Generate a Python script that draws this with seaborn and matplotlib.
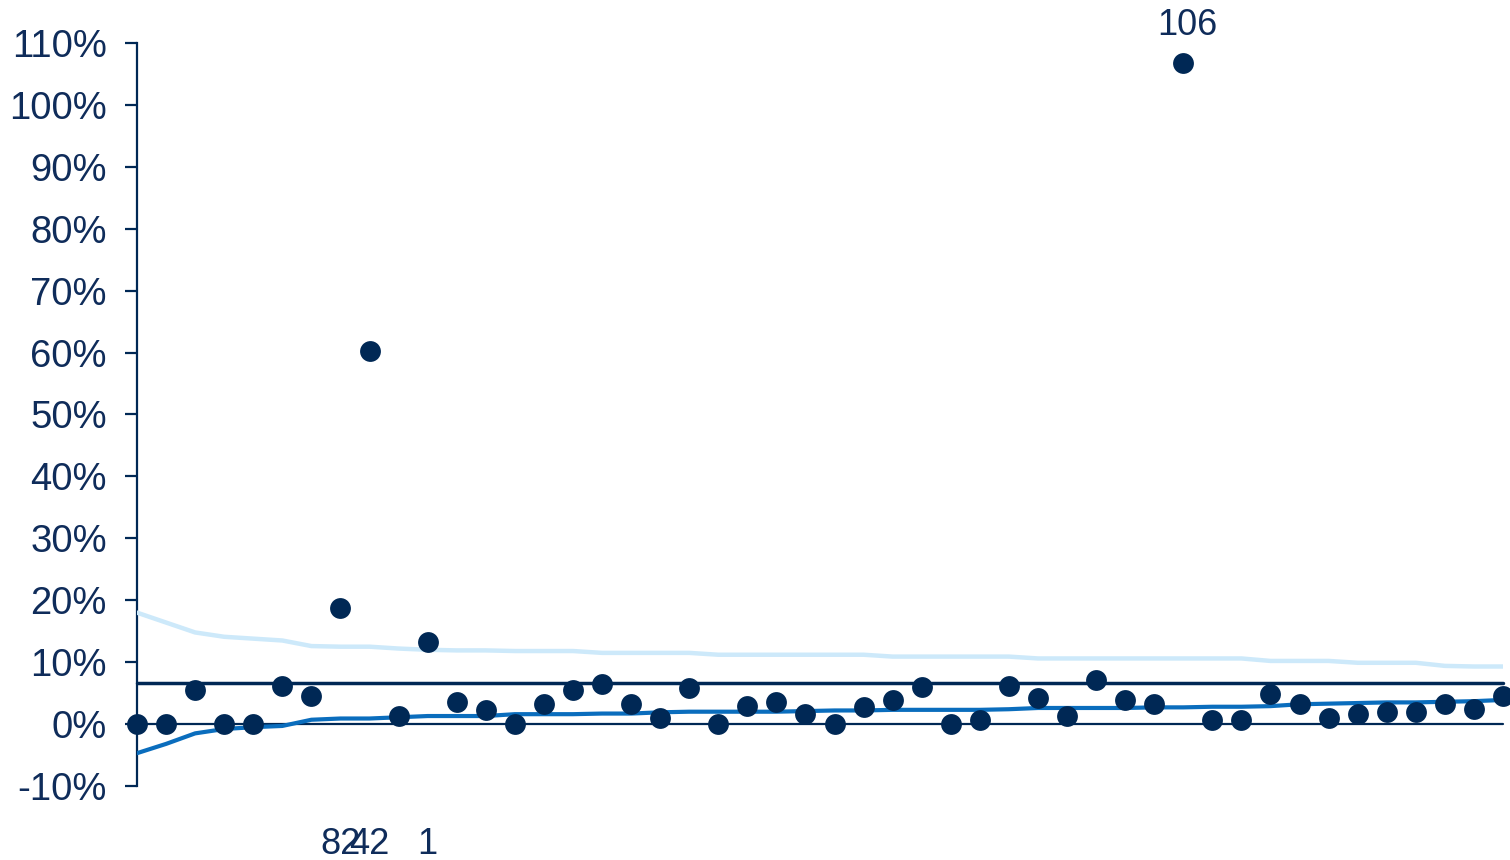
import numpy as np
import pandas as pd
import matplotlib
matplotlib.use("Agg")
import matplotlib.pyplot as plt
import seaborn as sns
from matplotlib.ticker import FuncFormatter, FixedLocator

# ---- data (percent) ----
rates = [0.0, 0.0, 5.5, 0.0, 0.0, 6.1, 4.5, 18.8, 60.3, 1.3, 13.3, 3.6, 2.3, 0.0,
         3.3, 5.5, 6.5, 3.2, 1.0, 5.8, 0.0, 3.0, 3.6, 1.6, 0.0, 2.7, 3.9, 6.0,
         0.0, 0.6, 6.1, 4.2, 1.3, 7.1, 3.9, 3.2, 106.8, 0.6, 0.6, 4.9, 3.2, 1.0,
         1.7, 2.0, 2.0, 3.2, 2.5, 4.5]
upper_limit = [18.0, 16.4, 14.8, 14.1, 13.8, 13.5, 12.6, 12.5, 12.5, 12.2, 12.0, 11.9,
               11.9, 11.8, 11.8, 11.8, 11.5, 11.5, 11.5, 11.5, 11.2, 11.2, 11.2, 11.2,
               11.2, 11.2, 10.9, 10.9, 10.9, 10.9, 10.9, 10.6, 10.6, 10.6, 10.6, 10.6,
               10.6, 10.6, 10.6, 10.2, 10.2, 10.2, 9.9, 9.9, 9.9, 9.4, 9.3, 9.3]
lower_limit = [-4.7, -3.2, -1.5, -0.8, -0.5, -0.3, 0.7, 0.9, 0.9, 1.1, 1.3, 1.3,
               1.3, 1.6, 1.6, 1.6, 1.7, 1.7, 1.9, 2.0, 2.0, 2.0, 2.0, 2.1,
               2.2, 2.2, 2.3, 2.3, 2.3, 2.3, 2.4, 2.6, 2.6, 2.6, 2.6, 2.7,
               2.7, 2.8, 2.8, 2.9, 3.2, 3.3, 3.4, 3.5, 3.5, 3.6, 3.7, 3.9]
mean_rate = 6.65
label_index = [7, 8, 10, 36]
label_text = ["82", "42", "1", "106"]
y_ticks = [-10, 0, 10, 20, 30, 40, 50, 60, 70, 80, 90, 100, 110]

NAVY = "#002855"
TEXT = "#0f2c5a"
LIGHT = "#cde9fa"
MID = "#0a6dbd"

df = pd.DataFrame({"pos": np.arange(len(rates)), "rate": rates,
                   "upper": upper_limit, "lower": lower_limit})

sns.set_style("white")
plt.rcParams['font.family'] = ['Liberation Sans', 'DejaVu Sans']

fig = plt.figure(figsize=(15.1, 8.6), dpi=100)
ax = fig.add_axes([137 / 1510, 1 - 786 / 860, (1503 - 137) / 1510, (786 - 43) / 860])

n = len(rates)
ax.plot([0, n - 1], [0, 0], color=NAVY, lw=1.6, zorder=2, clip_on=False)
ax.plot([0, n - 1], [mean_rate, mean_rate], color=NAVY, lw=2.5, zorder=2, clip_on=False)
sns.lineplot(data=df, x="pos", y="upper", ax=ax, color=LIGHT, lw=3.2, zorder=3)
sns.lineplot(data=df, x="pos", y="lower", ax=ax, color=MID, lw=3.0, zorder=3)
sns.scatterplot(data=df, x="pos", y="rate", ax=ax, color=NAVY, s=225,
                linewidth=0, zorder=5, clip_on=False)

for i, t in zip(label_index, label_text):
    if rates[i] > 100:
        ax.text(i + 0.15, rates[i] + 6.0, t, ha="center", va="center",
                fontsize=26, color=TEXT, clip_on=False)
    else:
        ax.text(i, -19.5, t, ha="center", va="center", fontsize=26,
                color=TEXT, clip_on=False)

ax.set_xlim(0, n - 1)
ax.set_ylim(-10, 110)
ax.yaxis.set_major_locator(FixedLocator(y_ticks))
ax.yaxis.set_major_formatter(FuncFormatter(lambda v, p: f"{v:.0f}%"))
ax.set_xticks([])
ax.set_xlabel("")
ax.set_ylabel("")
for s in ["top", "right", "bottom"]:
    ax.spines[s].set_visible(False)
ax.spines["left"].set_color(NAVY)
ax.spines["left"].set_linewidth(1.6)
ax.tick_params(axis="y", which="major", left=True, length=8.6, width=1.6,
               color=NAVY, pad=13, labelsize=27.5, labelcolor=TEXT)
ax.set_facecolor("white")
if ax.get_legend():
    ax.get_legend().remove()

fig.savefig("out.png", dpi=100, facecolor="white")
